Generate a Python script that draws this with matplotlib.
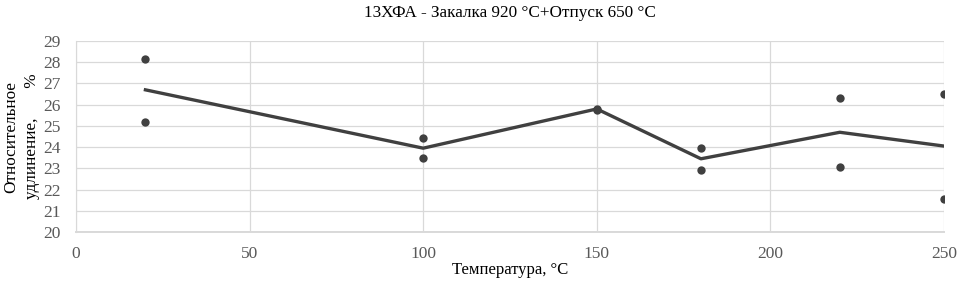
import numpy as np
import matplotlib
import matplotlib.pyplot as plt

matplotlib.rcParams.update({
    "font.family": ["Liberation Serif", "DejaVu Serif"],
    "figure.dpi": 100,
})

# ── Data ────────────────────────────────────────────────────────────────────
TEMPS = [20, 100, 150, 180, 220, 250]
ELONG_1 = [28.15, 24.45, 25.8, 23.95, 26.3, 26.5]
ELONG_2 = [25.2, 23.5, 25.75, 22.9, 23.05, 21.55]
ELONG_MEAN = [26.7, 23.95, 25.8, 23.45, 24.7, 24.05]

TITLE = "13ХФА - Закалка 920 °С+Отпуск 650 °С"
XLABEL = "Температура, °С"
YLABEL = "Относительное\nудлинение,       %"

C_LINE = "#404040"
C_GRID = "#d9d9d9"
C_TICK = "#595959"

fig = plt.figure(figsize=(9.57, 2.85))
ax = fig.add_axes([0.0794, 0.186, 0.907, 0.670])

ax.plot(TEMPS, ELONG_MEAN, color=C_LINE, linewidth=2.4, zorder=3)
ax.scatter(TEMPS, ELONG_1, s=36, color=C_LINE, zorder=4, linewidths=0)
ax.scatter(TEMPS, ELONG_2, s=36, color=C_LINE, zorder=4, linewidths=0)

ax.set_xlim(0, 250)
ax.set_ylim(20, 29)
ax.set_xticks(np.arange(0, 251, 50))
ax.set_yticks(np.arange(20, 30, 1))
ax.grid(True, color=C_GRID, linewidth=0.9, zorder=0)
ax.tick_params(length=0, labelsize=12.5, labelcolor=C_TICK)
ax.tick_params(axis="x", pad=10)
ax.tick_params(axis="y", pad=11)

for side in ["top", "right"]:
    ax.spines[side].set_visible(False)
ax.spines["left"].set_color(C_GRID)
ax.spines["bottom"].set_color(C_GRID)
ax.spines["bottom"].set_linewidth(1.4)

ax.set_title(TITLE, fontsize=12.3, pad=17)
ax.set_xlabel(XLABEL, fontsize=12, labelpad=0)
ax.set_ylabel(YLABEL, fontsize=12.3, linespacing=1.45)
ax.yaxis.set_label_coords(-0.041, 0.5)

fig.savefig("out.png", dpi=100)
